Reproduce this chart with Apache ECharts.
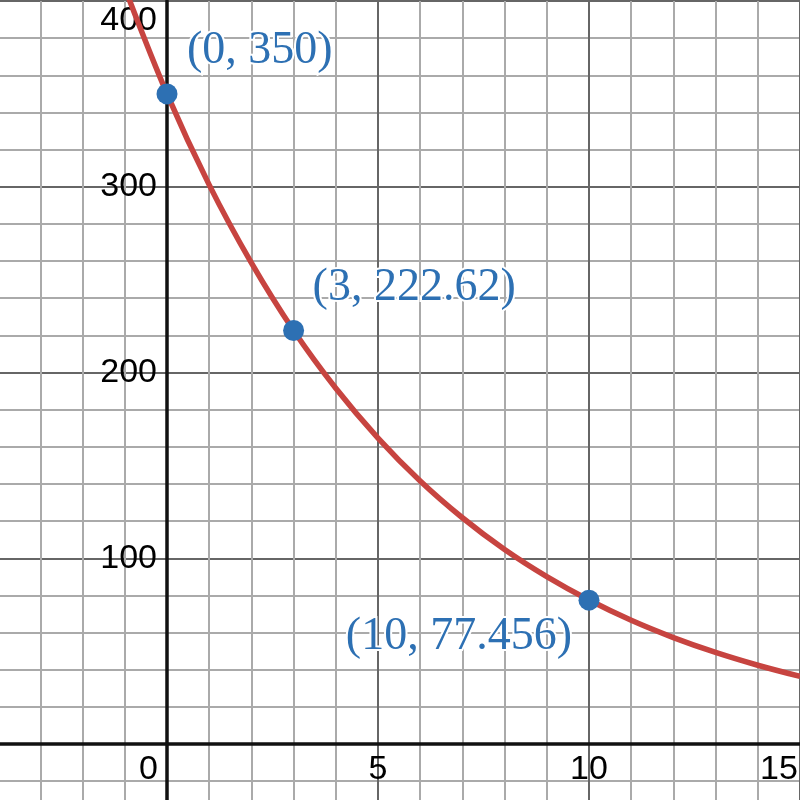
<!DOCTYPE html>
<html>
<head>
<meta charset="utf-8">
<title>Exponential decay</title>
<script src="https://cdn.jsdelivr.net/npm/echarts@6.0.0/dist/echarts.min.js"></script>
<style>
  html, body { margin: 0; padding: 0; background: #fff; }
  #main { width: 800px; height: 800px; }
</style>
</head>
<body>
<div id="main"></div>
<script>
// curve, one value per unit of x
const curveX = [-1, 0, 1, 2, 3, 4, 5, 6, 7, 8, 9, 10, 11, 12, 13, 14, 15];
const curveY = [407, 350, 301, 259, 222.6, 191.5, 164.7, 141.6, 121.8, 104.7, 90.1, 77.5, 66.6, 57.3, 49.3, 42.4, 36.4];

// marked points
const pointX = [0, 3, 10];
const pointY = [350, 222.62, 77.456];
const pointLabels = ['(0, 350)', '(3, 222.62)', '(10, 77.456)'];

// where each point label sits (style only)
const labelPlace = [
  { align: 'left', offset: [20, -43] },
  { align: 'left', offset: [19, -43] },
  { align: 'right', offset: [-17, 37] }
];

const RED = '#c74440';
const BLUE = '#2d70b3';
const tickFont = 'Liberation Sans, Arial, sans-serif';

const chart = echarts.init(document.getElementById('main'), null, { renderer: 'canvas' });

// grid runs past the page edges so that min/max sit on whole ticks;
// axis offsets pull the axes back onto x = 0 and y = 0
var option = {
  backgroundColor: '#ffffff',
  animation: false,
  grid: {
    left: -44,
    right: 0,
    top: 1,
    bottom: -129.75,
    containLabel: false,
    outerBoundsMode: 'none'
  },
  xAxis: {
    type: 'value',
    position: 'bottom',
    offset: -185.75,
    min: -5,
    max: 15,
    interval: 5,
    axisLine: { onZero: false, lineStyle: { color: '#111111', width: 3.5 } },
    axisTick: { show: false },
    splitLine: { show: true, lineStyle: { color: '#666666', width: 2 } },
    minorTick: { show: false, splitNumber: 5 },
    minorSplitLine: { show: true, lineStyle: { color: '#aaaaaa', width: 2 } },
    axisLabel: {
      showMinLabel: true,
      showMaxLabel: true,
      margin: 9,
      color: '#000',
      fontSize: 34,
      fontFamily: tickFont,
      formatter: function (v) {
        if (v < 0) return '';
        if (v === 0) return '{z|0}';
        if (v === 15) return '{e|15}';
        return String(v);
      },
      rich: {
        z: { fontSize: 34, fontFamily: tickFont, color: '#000', padding: [0, 37, 0, 0] },
        e: { fontSize: 34, fontFamily: tickFont, color: '#000', padding: [0, 42, 0, 0] }
      }
    }
  },
  yAxis: {
    type: 'value',
    position: 'left',
    offset: -211,
    min: -100,
    max: 400,
    interval: 100,
    axisLine: { onZero: false, lineStyle: { color: '#111111', width: 3.5 } },
    axisTick: { show: false },
    splitLine: { show: true, lineStyle: { color: '#666666', width: 2 } },
    minorTick: { show: false, splitNumber: 5 },
    minorSplitLine: { show: true, lineStyle: { color: '#aaaaaa', width: 2 } },
    axisLabel: {
      showMinLabel: true,
      showMaxLabel: true,
      margin: 10,
      color: '#000',
      fontSize: 34,
      fontFamily: tickFont,
      formatter: function (v) {
        if (v <= 0) return '';
        if (v === 400) return '{t|400}';
        return String(v);
      },
      rich: {
        t: { fontSize: 34, fontFamily: tickFont, color: '#000', padding: [40, 0, 0, 0] }
      }
    }
  },
  series: [
    {
      type: 'line',
      data: curveX.map(function (x, i) { return [x, curveY[i]]; }),
      smooth: 0.35,
      showSymbol: false,
      clip: true,
      lineStyle: { color: RED, width: 5.5 },
      z: 3
    },
    {
      type: 'scatter',
      symbolSize: 21,
      itemStyle: { color: BLUE, opacity: 1 },
      z: 4,
      data: pointX.map(function (x, i) {
        return {
          value: [x, pointY[i]],
          label: {
            show: true,
            formatter: pointLabels[i],
            position: 'inside',
            align: labelPlace[i].align,
            verticalAlign: 'middle',
            offset: labelPlace[i].offset,
            color: BLUE,
            opacity: 1,
            fontSize: 46,
            fontFamily: 'Liberation Serif, Times New Roman, serif',
            textBorderColor: '#ffffff',
            textBorderWidth: 4
          }
        };
      })
    }
  ]
};

chart.setOption(option);
</script>
</body>
</html>
